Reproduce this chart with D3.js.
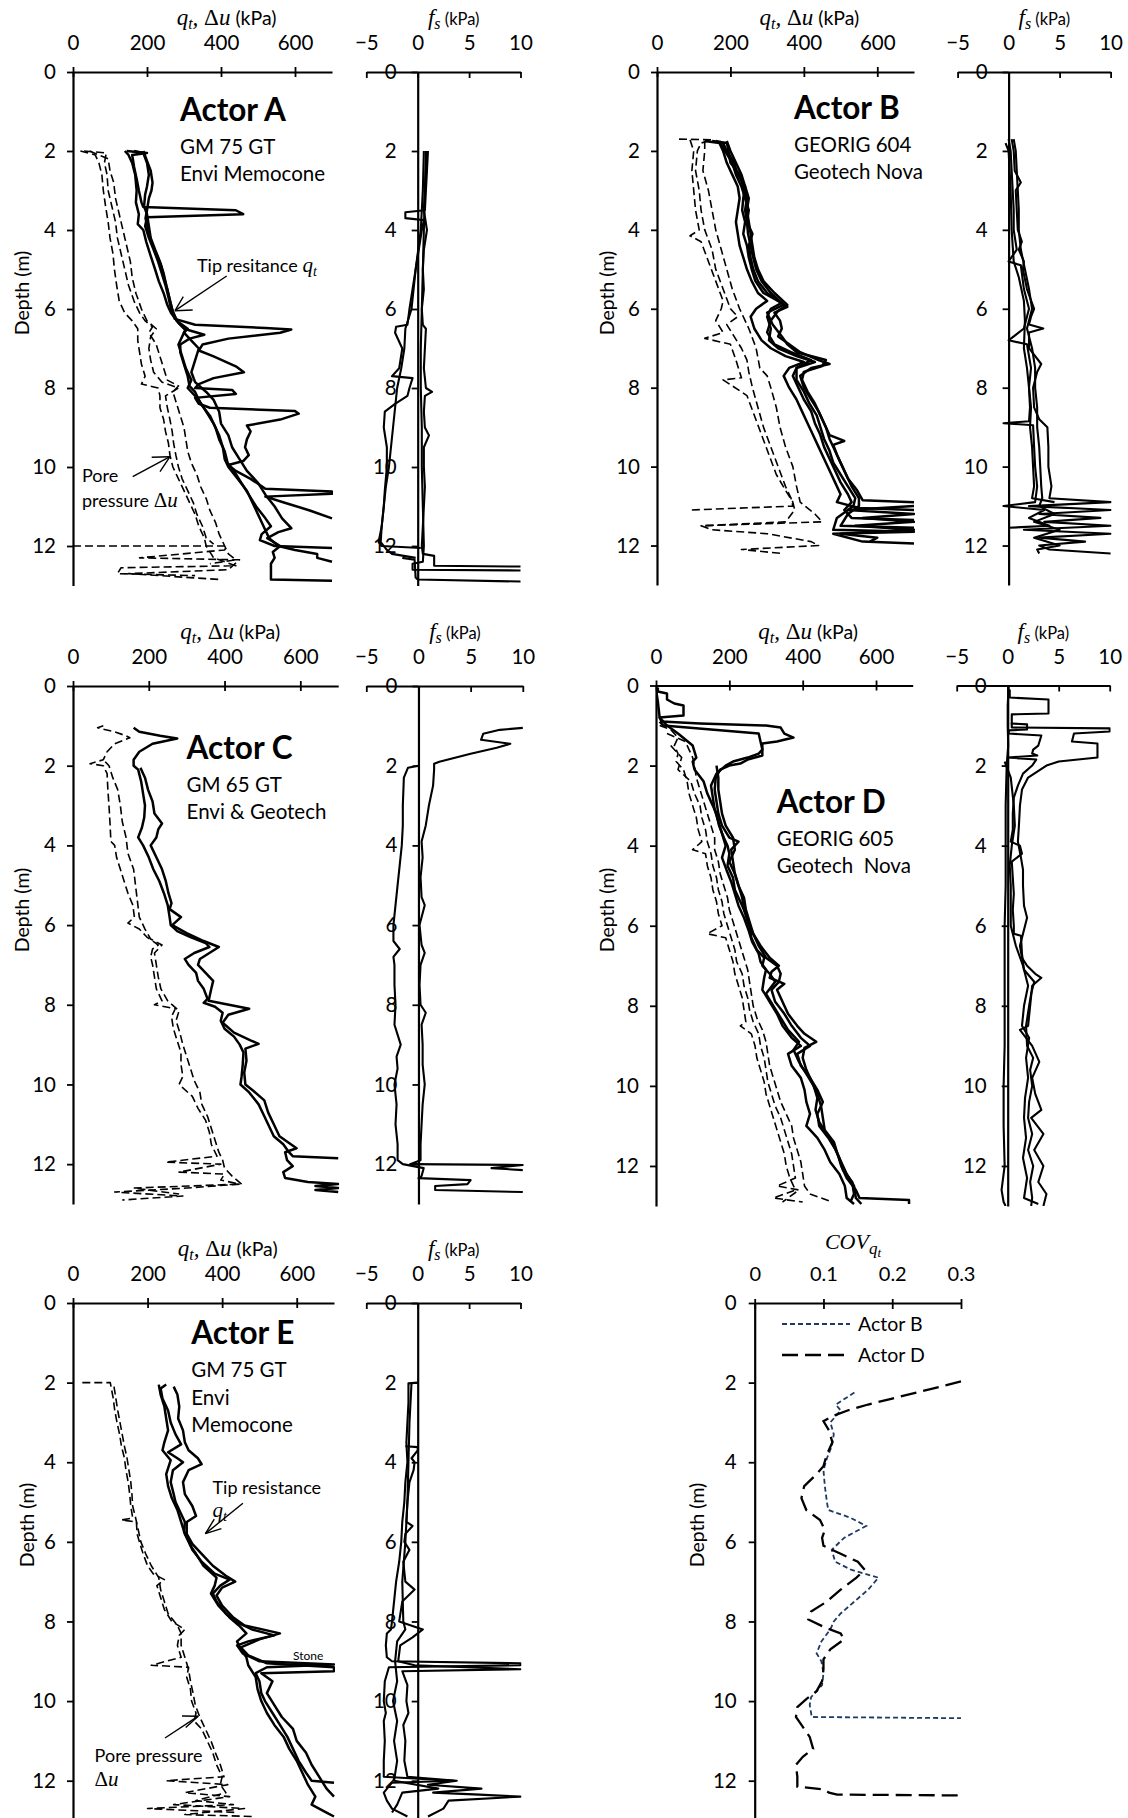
<!DOCTYPE html>
<html><head><meta charset="utf-8">
<script src="https://cdn.jsdelivr.net/npm/d3@7"></script>
<style>
body{margin:0;background:#fff}
svg{display:block}
text{font-family:Lato,'Open Sans',sans-serif;fill:#000}
.math{font-family:'Liberation Serif','DejaVu Serif',serif;font-style:italic}
</style></head><body>
<svg id="chart" width="1128" height="1818"></svg>
<script>
// ---------- tick labels ----------
const qtTicks = [0, 200, 400, 600];
const fsTicks = [-5, 0, 5, 10];
const depthTicks = [0, 2, 4, 6, 8, 10, 12];
const covTicks = [0, 0.1, 0.2, 0.3];

// ---------- Actor A : [depth (m), value] ----------
const qtA1 = [[2.0,145],[2.05,200],[2.1,160],[2.4,165],[2.7,172],[3.0,178],[3.3,185],[3.42,190],[3.5,440],[3.6,460],[3.68,200],[3.9,195],[4.2,205],[4.5,218],[4.8,230],[5.1,240],[5.4,250],[5.7,258],[6.0,265],[6.25,275],[6.4,330],[6.48,520],[6.52,590],[6.6,560],[6.75,420],[6.9,350],[7.05,340],[7.2,380],[7.45,440],[7.6,462],[7.75,380],[7.9,340],[8.0,330],[8.05,430],[8.15,440],[8.25,330],[8.4,340],[8.5,370],[8.58,600],[8.65,610],[8.8,560],[8.95,470],[9.1,480],[9.3,470],[9.5,465],[9.7,475],[9.85,460],[9.95,420],[10.1,440],[10.3,480],[10.55,520],[10.62,700],[10.68,700],[10.75,520],[10.9,570],[11.1,640],[11.3,700]];
const qtA2 = [[2.0,140],[2.1,150],[2.3,160],[2.6,168],[3.0,172],[3.3,170],[3.6,178],[3.85,175],[4.0,190],[4.3,198],[4.6,208],[5.0,222],[5.3,232],[5.6,245],[5.9,255],[6.1,265],[6.35,285],[6.5,300],[6.65,355],[6.75,315],[6.9,290],[7.1,290],[7.4,300],[7.7,310],[7.95,315],[8.1,330],[8.4,345],[8.7,370],[9.0,385],[9.3,395],[9.6,410],[9.9,418],[10.1,435],[10.4,455],[10.7,475],[11.0,495],[11.3,520],[11.5,535],[11.7,510],[11.85,505],[12.0,545],[12.05,700]];
const qtA3 = [[2.0,165],[2.05,190],[2.3,200],[2.6,205],[2.9,200],[3.1,195],[3.4,192],[3.6,200],[3.9,205],[4.2,210],[4.5,222],[4.8,235],[5.1,245],[5.4,252],[5.7,260],[6.0,268],[6.3,280],[6.5,310],[6.6,300],[6.8,320],[7.0,340],[7.3,330],[7.6,320],[7.85,330],[8.1,360],[8.3,380],[8.6,395],[8.9,400],[9.2,420],[9.5,430],[9.8,450],[10.1,470],[10.4,500],[10.7,520],[11.0,545],[11.3,565],[11.55,590],[11.65,555],[11.8,525],[12.0,560],[12.15,540],[12.3,545],[12.45,535],[12.85,535],[12.88,700]];
const qtA4 = [[2.0,190],[2.2,198],[2.5,210],[2.8,215],[3.0,212],[3.2,205],[3.5,200],[3.7,196],[4.0,203],[4.3,212],[4.6,225],[4.9,238],[5.2,246],[5.5,255],[5.8,262],[6.1,270],[6.35,285],[6.5,305],[6.7,295],[6.9,285],[7.2,295],[7.5,305],[7.8,320],[8.0,310],[8.3,340],[8.6,360],[8.9,380],[9.2,395],[9.5,405],[9.8,410],[10.0,420],[10.3,445],[10.6,470],[10.9,485],[11.2,500],[11.5,515],[11.8,530],[12.0,555],[12.1,600],[12.2,660],[12.3,660],[12.4,700]];
const uA1 = [[2.0,30],[2.05,90],[2.3,85],[2.6,92],[3.0,95],[3.4,105],[3.8,115],[4.2,120],[4.6,130],[5.0,140],[5.4,150],[5.8,165],[6.1,180],[6.3,195],[6.45,215],[6.6,205],[6.9,225],[7.2,235],[7.5,245],[7.8,255],[7.95,285],[8.1,270],[8.4,280],[8.7,290],[9.0,300],[9.3,305],[9.6,310],[9.9,320],[10.2,335],[10.5,345],[10.8,360],[11.1,370],[11.4,385],[11.7,395],[12.0,410],[12.2,420],[12.35,440],[12.45,370]];
const uA2 = [[2.0,20],[2.1,60],[2.3,70],[2.6,78],[3.0,82],[3.4,88],[3.8,95],[4.2,100],[4.6,108],[5.0,112],[5.4,118],[5.8,125],[6.1,140],[6.3,160],[6.5,175],[6.8,175],[7.1,180],[7.4,185],[7.7,195],[7.9,185],[8.0,230],[8.2,235],[8.5,235],[8.8,245],[9.1,250],[9.4,258],[9.7,262],[10.0,270],[10.3,285],[10.6,300],[10.9,315],[11.2,330],[11.5,340],[11.8,355],[12.0,360],[12.3,380],[12.5,440],[12.55,130],[12.7,120],[12.75,330]];
const uA3 = [[2.0,45],[2.2,95],[2.5,100],[2.8,110],[3.2,115],[3.6,125],[4.0,135],[4.4,145],[4.8,155],[5.2,160],[5.6,170],[6.0,185],[6.3,200],[6.5,225],[6.7,210],[7.0,205],[7.3,210],[7.6,218],[7.85,240],[8.0,285],[8.2,250],[8.5,255],[8.8,262],[9.1,268],[9.4,272],[9.7,278],[10.0,285],[10.3,295],[10.6,310],[10.9,325],[11.2,335],[11.5,350],[11.8,360],[11.95,380]];
const uA4 = [[12.0,0],[12.0,415],[12.1,410],[12.3,180],[12.35,450],[12.6,420],[12.7,150],[12.85,400]];
const fsA1 = [[2.0,1.0],[2.5,0.9],[3.0,0.8],[3.5,0.7],[3.55,-1.2],[3.7,-1.2],[3.75,0.6],[4.0,0.4],[4.5,0.1],[5.0,-0.2],[5.5,-0.5],[6.0,-0.8],[6.4,-1.0],[6.45,-2.1],[6.6,-2.2],[7.0,-1.5],[7.5,-1.8],[7.7,-2.5],[7.75,-0.5],[8.0,-0.8],[8.2,-1.0],[8.4,-2.2],[8.6,-3.2],[9.0,-3.3],[9.5,-3.0],[10.0,-3.0],[10.6,-3.2],[11.0,-3.3],[11.5,-3.5],[11.9,-3.8],[12.0,-3.5],[12.05,0.3]];
const fsA2 = [[2.0,0.6],[3.0,0.5],[4.0,0.3],[5.0,-0.2],[6.0,-0.6],[6.5,-1.2],[7.0,-1.3],[7.5,-1.6],[8.0,-2.0],[8.5,-2.2],[9.0,-2.4],[9.5,-2.6],[10.0,-2.8],[10.5,-3.1],[11.0,-3.3],[11.5,-3.5],[11.9,-3.6],[12.1,-3.0],[12.2,-2.5],[12.3,-0.2]];
const fsA3 = [[2.0,0.9],[2.5,0.8],[3.0,0.7],[3.5,0.6],[4.0,0.9],[4.5,0.6],[5.0,0.5],[5.5,0.6],[6.0,0.4],[6.4,0.5],[6.5,0.8],[7.0,0.7],[7.5,0.6],[8.0,0.8],[8.1,1.4],[8.2,0.7],[8.6,0.6],[9.0,0.7],[9.2,1.1],[9.5,0.6],[10.0,0.6],[10.5,0.7],[11.0,0.6],[11.5,0.5],[12.0,0.4],[12.2,0.5],[12.25,1.6],[12.5,1.6],[12.52,10]];
const fsA4 = [[2.0,0.8],[3.0,0.7],[4.0,0.6],[5.0,0.5],[6.0,0.4],[7.0,0.3],[8.0,0.3],[9.0,0.4],[10.0,0.4],[11.0,0.5],[12.0,0.6],[12.4,0.5],[12.45,-0.5],[12.6,-0.5],[12.62,10]];
const fsA5 = [[12.3,-1.5],[12.35,-0.3],[12.8,-0.2],[12.85,0.0],[12.9,10]];

// ---------- Actor B ----------
const qtB1 = [[1.75,150],[1.8,190],[2.0,195],[2.3,200],[2.6,225],[2.9,235],[3.2,245],[3.5,240],[3.8,245],[4.1,260],[4.4,250],[4.7,255],[5.0,262],[5.3,275],[5.6,300],[5.8,330],[5.95,355],[6.1,320],[6.3,335],[6.5,340],[6.7,330],[6.9,360],[7.1,390],[7.3,440],[7.4,470],[7.5,420],[7.7,390],[8.0,400],[8.3,420],[8.6,440],[8.9,455],[9.2,470],[9.35,510],[9.45,480],[9.7,490],[10.0,505],[10.3,520],[10.6,545],[10.85,560],[10.9,700]];
const qtB2 = [[1.75,130],[1.8,170],[2.0,180],[2.3,190],[2.6,205],[2.9,220],[3.2,225],[3.5,220],[3.8,215],[4.1,220],[4.4,225],[4.7,235],[5.0,245],[5.3,258],[5.6,275],[5.8,300],[6.0,270],[6.2,255],[6.5,265],[6.8,285],[7.0,310],[7.2,350],[7.35,400],[7.5,360],[7.7,345],[8.0,360],[8.3,380],[8.6,395],[8.9,410],[9.2,425],[9.5,440],[9.8,455],[10.1,470],[10.4,485],[10.7,500],[10.9,490],[11.05,550],[11.1,700]];
const qtB3 = [[1.75,160],[1.8,180],[2.0,190],[2.3,210],[2.6,220],[2.9,240],[3.2,235],[3.5,232],[3.8,240],[4.1,235],[4.4,245],[4.7,250],[5.0,258],[5.3,268],[5.6,290],[5.85,340],[6.0,310],[6.2,300],[6.5,310],[6.8,305],[7.0,330],[7.2,380],[7.35,430],[7.5,380],[7.7,370],[8.0,385],[8.3,400],[8.6,420],[8.9,430],[9.2,445],[9.5,455],[9.8,470],[10.1,485],[10.4,500],[10.7,520],[10.9,530],[11.1,510],[11.3,530],[11.35,700]];
const qtB4 = [[1.75,170],[2.0,185],[2.3,205],[2.6,215],[2.9,230],[3.2,240],[3.5,250],[3.8,245],[4.1,248],[4.4,255],[4.7,262],[5.0,270],[5.3,285],[5.6,310],[5.9,345],[6.1,300],[6.4,315],[6.7,340],[6.9,355],[7.1,380],[7.3,460],[7.45,450],[7.6,400],[7.8,395],[8.1,410],[8.4,430],[8.7,445],[9.0,460],[9.3,470],[9.6,485],[9.9,500],[10.2,515],[10.5,530],[10.8,550],[11.0,550],[11.2,520],[11.5,500],[11.55,700]];
const qtB5 = [[1.75,190],[2.0,200],[2.3,215],[2.6,230],[2.9,240],[3.2,250],[3.5,245],[3.8,250],[4.1,255],[4.4,260],[4.7,265],[5.0,275],[5.3,290],[5.6,320],[5.9,355],[6.05,330],[6.3,310],[6.6,300],[6.9,320],[7.1,365],[7.3,420],[7.5,380],[7.8,380],[8.1,400],[8.4,415],[8.7,435],[9.0,445],[9.3,455],[9.6,470],[9.9,480],[10.2,500],[10.5,520],[10.8,540],[11.0,535],[11.3,490],[11.6,480],[11.65,700],[11.7,480],[11.9,560],[11.95,700]];
const qtB6 = [[11.0,700],[11.1,520],[11.2,700],[11.3,560],[11.4,700],[11.5,540],[11.6,700],[11.7,500],[11.8,600],[11.9,580]];
const uB1 = [[1.7,60],[1.72,150],[1.8,120],[2.0,110],[2.5,105],[3.0,115],[3.5,120],[4.0,130],[4.5,150],[5.0,160],[5.5,180],[6.0,200],[6.2,220],[6.4,190],[6.7,210],[7.0,230],[7.3,245],[7.6,250],[8.0,260],[8.5,275],[9.0,290],[9.5,310],[10.0,330],[10.5,350],[10.8,365],[11.0,370],[11.1,90]];
const uB2 = [[1.72,90],[2.0,100],[2.5,95],[3.0,100],[3.5,105],[4.0,115],[4.15,90],[4.3,120],[4.8,140],[5.3,160],[5.8,180],[6.0,175],[6.3,160],[6.6,180],[6.75,130],[6.9,200],[7.3,215],[7.75,230],[7.8,180],[8.2,245],[8.7,265],[9.2,285],[9.7,305],[10.2,325],[10.6,350],[10.9,370],[11.1,375],[11.4,350],[11.5,120]];
const uB3 = [[1.75,130],[2.0,130],[2.5,125],[3.0,140],[3.5,150],[4.0,160],[4.5,175],[5.0,190],[5.5,205],[6.0,225],[6.5,250],[7.0,270],[7.5,280],[7.7,300],[8.0,310],[8.5,325],[9.0,335],[9.5,350],[10.0,370],[10.5,380],[10.9,390],[11.2,430],[11.4,450],[11.5,120],[11.6,150],[11.7,300],[11.9,420],[12.0,440],[12.1,230],[12.2,340]];
const fsB1 = [[1.7,0.3],[2.0,0.5],[2.5,0.6],[2.8,1.2],[3.0,0.7],[3.5,0.8],[4.0,0.9],[4.3,1.3],[4.5,1.0],[4.8,1.5],[5.0,1.4],[5.5,1.8],[6.0,2.5],[6.2,2.2],[6.4,2.0],[6.5,3.4],[6.6,2.0],[7.0,2.0],[7.4,3.2],[7.6,2.8],[8.0,2.4],[8.5,2.5],[8.8,3.0],[9.0,3.8],[9.5,3.9],[10.0,3.9],[10.5,4.2],[10.8,4.0],[10.9,10],[11.0,2.0],[11.1,10],[11.2,3.0],[11.3,9.0],[11.4,3.5],[11.5,10],[11.6,1.5],[11.7,10],[11.8,3.0],[11.9,7.5],[12.0,3.0],[12.1,4.0],[12.2,10]];
const fsB2 = [[1.7,0.0],[2.0,0.2],[2.5,0.3],[3.0,0.4],[3.5,0.5],[4.0,0.5],[4.5,0.8],[4.8,0.0],[4.9,1.2],[5.5,1.5],[6.0,2.0],[6.5,1.5],[6.8,0.0],[6.9,1.8],[7.5,2.2],[8.0,2.0],[8.5,2.1],[8.85,2.0],[8.9,-0.5],[8.95,2.4],[9.5,2.5],[10.0,2.6],[10.5,2.8],[10.9,2.6],[11.0,-0.5],[11.1,3.5],[11.3,2.0],[11.5,4.0],[11.55,0.0]];
const fsB3 = [[1.7,0.5],[2.0,0.7],[2.5,0.8],[3.0,0.9],[3.5,1.0],[4.0,1.0],[4.5,1.2],[5.0,1.6],[5.5,2.0],[6.0,2.3],[6.5,1.8],[7.0,2.3],[7.5,2.6],[8.0,2.6],[8.5,2.8],[9.0,2.8],[9.5,3.0],[10.0,3.1],[10.5,3.2],[10.8,3.3],[11.0,3.0],[11.2,4.5],[11.4,2.5],[11.6,5],[11.8,2.5],[12.0,5.0],[12.1,2.8],[12.2,3.0]];
const fsB4 = [[1.8,-0.3],[2.0,0],[3.0,0.2],[4.0,0.3],[4.8,0.5],[5.2,1.0],[5.8,1.5],[6.3,1.6],[7.0,1.5],[7.5,1.8],[8.0,2.0],[8.5,2.2],[9.0,2.1],[9.5,2.3],[10.0,2.4],[10.5,2.5],[10.8,2.3],[10.9,4.5]];

// ---------- Actor C ----------
const qtC1 = [[1.05,160],[1.15,175],[1.25,230],[1.32,275],[1.45,210],[1.65,175],[1.85,160],[2.0,160],[2.1,172],[2.4,180],[2.7,185],[3.0,190],[3.3,188],[3.55,182],[3.8,172],[4.0,185],[4.3,200],[4.6,212],[4.9,228],[5.2,240],[5.5,250],[5.8,255],[6.0,258],[6.15,275],[6.3,310],[6.45,350],[6.55,360],[6.7,320],[6.85,295],[7.0,305],[7.2,325],[7.4,330],[7.6,345],[7.85,355],[7.95,345],[8.05,375],[8.2,395],[8.4,390],[8.6,400],[8.8,425],[9.0,440],[9.2,450],[9.5,448],[9.8,445],[10.0,442],[10.2,465],[10.5,490],[10.8,505],[11.0,515],[11.3,530],[11.5,555],[11.7,570],[11.8,580],[11.85,700]];
const qtC2 = [[2.05,178],[2.3,190],[2.6,198],[2.9,210],[3.2,215],[3.45,235],[3.6,225],[3.8,220],[4.0,205],[4.3,220],[4.6,235],[4.9,245],[5.2,252],[5.45,260],[5.6,255],[5.8,285],[6.0,262],[6.2,300],[6.4,345],[6.55,385],[6.7,360],[6.85,335],[7.0,330],[7.2,350],[7.4,370],[7.6,365],[7.9,358],[8.1,465],[8.25,410],[8.45,395],[8.7,425],[8.9,470],[8.98,490],[9.1,455],[9.4,458],[9.7,452],[10.0,455],[10.15,475],[10.4,505],[10.7,515],[11.0,530],[11.3,545],[11.5,575],[11.6,590],[11.7,560],[11.9,565],[12.05,580],[12.2,555],[12.35,560],[12.45,620],[12.5,700],[12.55,640],[12.6,700],[12.65,640],[12.7,700]];
const uC1 = [[1.0,80],[1.05,65],[1.15,110],[1.25,140],[1.3,150],[1.45,110],[1.65,90],[1.85,80],[1.95,45],[2.0,80],[2.2,90],[2.6,92],[3.0,95],[3.5,98],[3.9,100],[4.0,110],[4.3,115],[4.6,125],[4.9,135],[5.2,145],[5.5,158],[5.8,162],[5.95,145],[6.1,175],[6.3,195],[6.5,225],[6.6,210],[6.8,205],[7.0,210],[7.3,215],[7.6,220],[7.9,235],[8.0,215],[8.1,270],[8.3,260],[8.6,265],[8.9,275],[9.2,285],[9.5,285],[9.8,290],[10.0,280],[10.3,315],[10.6,330],[10.9,350],[11.2,360],[11.5,365],[11.8,380],[11.95,245],[12.0,390],[12.2,280],[12.25,400],[12.4,390],[12.5,440],[12.6,300],[12.7,110],[12.8,290],[12.9,130]];
const uC2 = [[1.9,85],[2.0,95],[2.3,105],[2.6,118],[3.0,125],[3.4,130],[3.8,140],[4.2,145],[4.6,160],[5.0,165],[5.4,170],[5.8,175],[6.1,190],[6.35,205],[6.5,235],[6.7,215],[7.0,220],[7.3,225],[7.6,232],[7.9,250],[8.15,280],[8.4,272],[8.7,282],[9.0,290],[9.3,300],[9.6,310],[9.9,320],[10.2,335],[10.5,340],[10.8,355],[11.1,365],[11.4,375],[11.7,385],[11.9,395],[12.1,400],[12.3,420],[12.5,445],[12.6,160],[12.75,280]];
const fsC1 = [[1.05,10],[1.1,7.8],[1.2,6.2],[1.35,6.0],[1.45,8.8],[1.55,7.5],[1.7,5.0],[1.8,3.5],[1.9,2.0],[1.95,1.5],[2.1,1.5],[2.5,1.4],[3.0,1.0],[3.5,0.7],[3.9,0.3],[4.3,0.4],[4.8,0.2],[5.3,0.3],[5.5,0.6],[6.0,0.1],[6.5,0.3],[6.7,0.6],[7.0,0.2],[7.5,0.1],[8.0,0.2],[8.2,0.7],[8.5,0.3],[9.0,0.4],[9.5,0.4],[10.0,0.6],[10.5,0.4],[11.0,0.3],[11.5,0.2],[11.9,0.2],[12.0,-0.8],[12.02,10],[12.1,7.0],[12.15,10]];
const fsC2 = [[2.0,0],[2.05,-1.0],[2.3,-1.4],[3.0,-1.5],[3.5,-1.5],[4.0,-1.6],[4.5,-1.8],[5.0,-2.0],[5.5,-2.2],[6.0,-2.4],[6.4,-2.4],[6.6,-1.8],[6.8,-2.4],[7.0,-2.3],[7.5,-2.3],[8.0,-2.2],[8.5,-2.3],[9.0,-1.7],[9.3,-2.1],[9.6,-2.0],[10.0,-2.3],[10.5,-2.1],[11.0,-2.2],[11.5,-2.0],[11.9,-2.0],[12.0,-1.5],[12.1,0.5],[12.3,0.3],[12.35,0.0],[12.4,5.0],[12.5,4.7],[12.55,1.6],[12.65,1.6],[12.7,10]];

// ---------- Actor D ----------
const qtD1 = [[0.05,5],[0.15,5],[0.2,30],[0.35,30],[0.45,50],[0.5,75],[0.75,75],[0.8,10],[0.9,15],[0.95,120],[1.0,300],[1.05,340],[1.2,350],[1.3,375],[1.4,330],[1.45,290],[1.6,290],[1.75,290],[1.85,250],[1.95,230],[2.0,200],[2.1,175],[2.3,163],[2.6,160],[2.9,165],[3.2,170],[3.5,180],[3.8,200],[3.9,225],[4.1,205],[4.4,210],[4.7,215],[5.0,225],[5.3,235],[5.6,240],[5.9,250],[6.2,265],[6.5,285],[6.8,310],[7.0,335],[7.15,315],[7.3,310],[7.45,350],[7.6,330],[7.9,345],[8.2,360],[8.5,385],[8.7,405],[8.9,437],[9.05,405],[9.3,400],[9.6,410],[9.9,425],[10.2,440],[10.5,450],[10.8,455],[11.1,460],[11.4,485],[11.7,495],[12.0,505],[12.3,520],[12.6,545],[12.8,555],[12.85,690],[12.95,690]];
const qtD2 = [[0.9,10],[1.0,20],[1.1,150],[1.2,280],[1.4,285],[1.6,290],[1.7,280],[1.8,250],[1.9,210],[2.0,190],[2.2,165],[2.5,150],[2.8,155],[3.1,160],[3.4,170],[3.7,180],[4.0,190],[4.3,180],[4.6,192],[4.9,205],[5.2,215],[5.5,225],[5.8,240],[6.1,252],[6.4,262],[6.7,280],[6.9,285],[7.1,300],[7.3,295],[7.6,290],[7.9,310],[8.2,330],[8.5,345],[8.8,370],[9.0,395],[9.2,360],[9.5,370],[9.8,395],[10.1,405],[10.4,410],[10.7,420],[11.0,410],[11.3,440],[11.6,460],[11.9,475],[12.2,500],[12.5,515],[12.8,520],[12.95,540]];
const qtD3 = [[0.1,0],[0.4,5],[0.8,10],[1.0,30],[1.2,60],[1.5,100],[1.8,110],[1.9,100],[2.1,105],[2.4,130],[2.7,140],[2.9,150],[3.2,165],[3.5,172],[3.8,185],[4.0,195],[4.2,200],[4.5,195],[4.8,210],[5.1,215],[5.4,230],[5.7,245],[6.0,255],[6.3,260],[6.6,275],[6.8,295],[7.0,290],[7.2,310],[7.4,325],[7.7,300],[8.0,320],[8.3,340],[8.6,360],[8.9,390],[9.1,375],[9.4,390],[9.7,410],[10.0,430],[10.3,440],[10.6,435],[10.9,445],[11.2,465],[11.5,485],[11.8,500],[12.1,510],[12.4,535],[12.7,540],[12.9,530]];
const qtD4 = [[2.0,165],[2.3,170],[2.6,170],[2.9,175],[3.2,180],[3.5,190],[3.8,210],[4.1,215],[4.4,200],[4.7,215],[5.0,225],[5.3,240],[5.6,245],[5.9,255],[6.2,265],[6.5,280],[6.8,300],[7.0,330],[7.2,340],[7.4,335],[7.6,315],[7.9,325],[8.2,350],[8.5,370],[8.8,395],[9.0,420],[9.2,385],[9.5,395],[9.8,420],[10.1,440],[10.4,455],[10.7,440],[11.0,445],[11.3,470],[11.6,490],[11.9,505],[12.2,520],[12.5,540],[12.8,545],[12.95,560]];
const uD1 = [[1.0,10],[1.1,40],[1.3,60],[1.5,50],[1.7,60],[1.9,55],[2.1,75],[2.4,85],[2.7,90],[3.0,100],[3.3,110],[3.6,115],[3.9,125],[4.1,100],[4.2,135],[4.5,140],[4.8,150],[5.1,155],[5.4,165],[5.7,170],[6.0,180],[6.2,140],[6.3,190],[6.6,200],[6.9,210],[7.2,215],[7.5,225],[7.8,235],[8.1,240],[8.4,245],[8.5,230],[8.7,260],[9.0,270],[9.3,275],[9.6,285],[9.9,295],[10.2,300],[10.5,310],[10.8,320],[11.1,330],[11.4,340],[11.7,350],[12.0,355],[12.3,365],[12.6,380],[12.8,320],[12.9,400]];
const uD2 = [[1.2,30],[1.4,80],[1.6,90],[1.8,100],[2.0,105],[2.3,110],[2.6,120],[2.9,130],[3.2,140],[3.5,150],[3.8,160],[4.1,160],[4.4,170],[4.7,175],[5.0,185],[5.3,195],[5.6,200],[5.9,210],[6.2,220],[6.5,230],[6.8,240],[7.1,250],[7.4,255],[7.7,260],[8.0,265],[8.3,275],[8.6,290],[8.9,300],[9.2,305],[9.5,310],[9.8,320],[10.1,330],[10.4,340],[10.7,355],[11.0,370],[11.3,375],[11.6,385],[11.9,395],[12.2,400],[12.5,405],[12.7,420],[12.9,480]];
const uD3 = [[1.5,40],[1.8,70],[2.1,60],[2.4,95],[2.7,105],[3.0,120],[3.3,125],[3.6,135],[3.9,140],[4.2,150],[4.5,155],[4.8,165],[5.1,170],[5.4,180],[5.7,185],[6.0,195],[6.3,205],[6.6,215],[6.9,220],[7.2,235],[7.5,240],[7.8,250],[8.1,255],[8.4,265],[8.7,280],[9.0,285],[9.3,295],[9.6,300],[9.9,305],[10.2,315],[10.5,325],[10.8,340],[11.1,350],[11.4,360],[11.7,370],[12.0,375],[12.3,380],[12.5,330],[12.6,390],[12.9,345]];
const fsD1 = [[0.1,0.2],[0.3,0.2],[0.35,4.0],[0.7,4.0],[0.72,0.4],[1.05,0.4],[1.07,10],[1.15,10],[1.2,6.5],[1.4,6.3],[1.45,8.8],[1.8,8.8],[1.9,5.0],[2.0,3.8],[2.1,3.2],[2.3,2.0],[2.6,1.4],[3.0,1.2],[3.5,1.1],[3.9,1.0],[4.3,1.3],[4.6,1.5],[5.0,1.5],[5.5,1.6],[5.8,1.9],[6.2,1.5],[6.5,1.2],[6.8,1.4],[7.0,1.9],[7.2,2.7],[7.3,3.3],[7.5,2.4],[8.0,2.2],[8.5,2.0],[8.6,1.2],[9.0,2.4],[9.4,3.1],[9.8,2.4],[10.2,2.7],[10.6,3.3],[10.8,2.3],[11.2,3.5],[11.6,2.6],[12.0,3.5],[12.4,3.0],[12.7,3.8],[13.0,3.5]];
const fsD2 = [[0.95,0.3],[0.97,1.9],[1.1,1.9],[1.12,0.1],[1.2,0.1],[1.25,3.3],[1.5,3.0],[1.6,2.5],[1.7,2.4],[1.75,2.9],[1.8,0.0],[1.85,2.8],[2.0,2.4],[2.2,1.5],[2.5,1.0],[2.8,0.6],[3.2,0.5],[3.6,0.5],[3.9,0.3],[4.0,1.2],[4.2,1.4],[4.4,0.4],[4.8,0.5],[5.2,0.6],[5.6,0.5],[6.0,0.6],[6.2,0.6],[6.25,1.3],[6.7,1.4],[7.1,1.6],[7.4,2.6],[7.7,2.3],[8.0,2.1],[8.5,1.8],[9.0,1.9],[9.3,2.5],[9.6,2.2],[10.0,2.4],[10.4,2.1],[10.8,2.0],[11.2,2.4],[11.6,2.0],[12.0,2.5],[12.4,2.2],[12.8,2.4],[13.0,2.3]];
const fsD3 = [[0.0,0.1],[0.5,0.0],[1.0,0.0],[1.5,0.05],[2.0,-0.1],[3.0,-0.2],[4.0,-0.2],[5.0,-0.2],[6.0,-0.3],[7.0,-0.3],[8.0,-0.3],[9.0,-0.3],[10.0,-0.4],[11.0,-0.4],[12.0,-0.3],[12.6,-0.6],[12.9,-0.4],[13.0,-0.2]];
const fsD4 = [[1.9,-0.3],[2.3,0.3],[3.0,0.6],[3.5,0.7],[4.0,0.4],[4.5,0.2],[5.0,0.3],[6.0,0.3],[6.5,0.8],[7.0,1.5],[7.5,2.0],[8.0,1.6],[8.5,1.4],[8.8,2.1],[9.3,1.8],[9.8,2.0],[10.3,1.7],[10.8,1.6],[11.3,1.8],[11.8,1.5],[12.3,1.9],[12.8,1.6],[12.95,3.0]];

// ---------- Actor E ----------
const qtE1 = [[2.05,250],[2.15,235],[2.4,240],[2.7,255],[3.0,262],[3.3,275],[3.55,290],[3.75,255],[3.9,280],[4.0,295],[4.2,268],[4.5,262],[4.8,270],[5.0,275],[5.2,285],[5.5,300],[5.75,298],[6.0,312],[6.2,320],[6.5,345],[6.8,380],[6.95,420],[7.1,395],[7.3,375],[7.5,385],[7.8,410],[8.0,435],[8.2,480],[8.35,540],[8.5,470],[8.6,440],[8.8,455],[9.0,500],[9.08,700],[9.15,520],[9.3,490],[9.5,500],[9.8,505],[10.0,515],[10.3,535],[10.6,555],[10.9,575],[11.2,590],[11.5,605],[11.8,625],[12.0,640],[12.05,700]];
const qtE2 = [[2.1,270],[2.3,280],[2.6,285],[2.9,282],[3.2,295],[3.5,300],[3.7,310],[3.9,335],[4.05,345],[4.2,310],[4.5,295],[4.8,300],[5.1,320],[5.35,330],[5.5,305],[5.8,305],[6.05,320],[6.3,345],[6.6,375],[6.85,410],[7.0,435],[7.15,400],[7.35,385],[7.6,400],[7.9,430],[8.1,460],[8.3,555],[8.45,500],[8.65,450],[8.85,470],[9.05,520],[9.15,700],[9.25,700],[9.3,505],[9.5,535],[9.8,520],[10.1,540],[10.4,560],[10.7,590],[11.0,600],[11.3,625],[11.6,640],[11.9,660],[12.2,680],[12.4,700]];
const qtE3 = [[2.05,230],[2.3,235],[2.6,245],[2.9,250],[3.2,255],[3.5,245],[3.7,240],[3.95,262],[4.3,250],[4.6,255],[4.9,265],[5.2,280],[5.5,290],[5.8,300],[6.1,315],[6.3,330],[6.6,350],[6.9,385],[7.1,380],[7.3,370],[7.6,390],[7.9,420],[8.1,445],[8.3,465],[8.5,440],[8.7,450],[8.9,465],[9.1,470],[9.4,490],[9.7,495],[10.0,505],[10.3,520],[10.6,540],[10.9,565],[11.2,580],[11.5,600],[11.8,615],[12.1,630],[12.4,650],[12.6,640],[12.8,680],[12.9,700]];
const uE1 = [[2.0,25],[2.0,100],[2.1,102],[2.4,108],[2.7,112],[3.0,118],[3.3,125],[3.6,130],[3.9,138],[4.2,142],[4.5,148],[4.8,152],[5.1,155],[5.4,160],[5.45,130],[5.5,170],[5.8,172],[6.0,178],[6.3,188],[6.6,200],[6.8,215],[6.95,245],[7.1,225],[7.4,235],[7.7,245],[8.0,265],[8.2,300],[8.35,285],[8.6,280],[8.9,290],[9.1,210],[9.15,310],[9.4,305],[9.7,315],[10.0,318],[10.3,330],[10.5,325],[10.7,345],[11.0,360],[11.3,375],[11.6,385],[11.9,400],[12.1,395],[12.3,410],[12.5,330],[12.6,430],[12.7,200],[12.8,440]];
const uE2 = [[2.1,110],[2.4,115],[2.7,120],[3.0,126],[3.3,132],[3.6,138],[3.9,145],[4.2,150],[4.5,155],[4.8,158],[5.1,160],[5.4,168],[5.7,175],[6.0,182],[6.3,195],[6.6,210],[6.9,230],[7.2,235],[7.5,245],[7.8,255],[8.1,280],[8.3,290],[8.6,290],[8.9,300],[9.2,310],[9.5,315],[9.8,322],[10.1,328],[10.4,340],[10.7,355],[11.0,370],[11.3,382],[11.6,395],[11.9,405],[12.0,250],[12.1,415],[12.3,300],[12.4,420],[12.6,270],[12.7,460],[12.85,300],[12.9,480]];
const fsE1 = [[2.0,0],[2.02,-0.9],[2.5,-0.9],[3.0,-1.0],[3.5,-1.1],[4.0,-1.0],[4.5,-1.2],[5.0,-1.3],[5.5,-1.5],[6.0,-1.6],[6.5,-1.8],[7.0,-2.1],[7.5,-2.3],[8.0,-2.5],[8.2,-2.6],[8.3,-3.0],[8.6,-3.1],[8.9,-3.0],[9.0,-2.5],[9.05,10],[9.1,10],[9.15,-2.8],[9.5,-3.2],[10.0,-3.3],[10.3,-3.1],[10.5,-3.3],[11.0,-3.2],[11.5,-3.3],[11.9,-3.3],[12.0,3.5],[12.05,-2.5],[12.3,-3.3],[12.5,-3.0],[12.7,-2.5],[12.9,-1.0]];
const fsE2 = [[3.6,-1.2],[3.62,0],[3.7,0.0],[3.9,-0.6],[4.0,-0.3],[4.2,-0.4],[4.5,-0.8],[5.0,-1.0],[5.5,-1.1],[5.6,-0.5],[5.8,-1.2],[6.0,-1.3],[6.2,-0.8],[6.5,-1.4],[7.0,-1.2],[7.2,-0.3],[7.5,-1.5],[8.0,-1.8],[8.2,0.5],[8.4,-0.5],[8.6,-1.7],[9.0,-1.9],[9.1,-0.3],[9.2,10],[9.25,-1.5],[9.6,-1.0],[10.0,-1.1],[10.3,-0.9],[10.6,-1.4],[11.0,-1.2],[11.5,-1.3],[11.9,-1.0],[12.0,3.8],[12.1,1.0],[12.2,6.2],[12.3,1.5],[12.35,6.0],[12.4,10],[12.5,3.0],[12.7,2.5],[12.9,1.0]];
const fsE3 = [[2.0,-0.6],[3.0,-0.8],[4.0,-0.9],[5.0,-1.0],[6.0,-1.2],[7.0,-1.5],[8.0,-1.4],[8.2,-1.2],[8.5,-2.0],[9.0,-2.2],[9.5,-2.0],[10.0,-2.4],[10.5,-2.0],[11.0,-2.3],[11.5,-2.0],[12.0,-2.3],[12.2,2.0],[12.3,-1.5],[12.6,-2.0],[12.8,-2.5]];

// ---------- COV of qt : [depth, COV] ----------
const covB = [[2.25,0.145],[2.55,0.118],[2.7,0.125],[2.8,0.12],[3.0,0.11],[3.3,0.115],[3.6,0.112],[3.9,0.105],[4.2,0.1],[4.6,0.102],[5.0,0.105],[5.2,0.107],[5.4,0.14],[5.6,0.162],[5.9,0.13],[6.2,0.112],[6.5,0.117],[6.7,0.14],[6.9,0.18],[7.2,0.165],[7.5,0.145],[7.8,0.125],[8.0,0.115],[8.2,0.11],[8.5,0.097],[8.8,0.09],[9.0,0.097],[9.3,0.1],[9.6,0.098],[9.9,0.082],[10.1,0.08],[10.4,0.083],[10.43,0.3]];
const covD = [[1.97,0.3],[2.1,0.27],[2.25,0.235],[2.4,0.2],[2.55,0.165],[2.7,0.135],[2.85,0.112],[2.97,0.1],[3.2,0.108],[3.5,0.113],[3.8,0.105],[4.1,0.1],[4.3,0.09],[4.6,0.072],[4.9,0.068],[5.2,0.075],[5.45,0.095],[5.7,0.102],[5.9,0.098],[6.1,0.1],[6.3,0.125],[6.5,0.15],[6.7,0.16],[6.9,0.148],[7.2,0.125],[7.5,0.105],[7.75,0.082],[7.95,0.078],[8.15,0.102],[8.3,0.125],[8.45,0.13],[8.7,0.11],[8.95,0.1],[9.2,0.1],[9.5,0.098],[9.75,0.09],[9.95,0.075],[10.15,0.062],[10.4,0.06],[10.65,0.07],[10.9,0.08],[11.2,0.085],[11.4,0.07],[11.6,0.06],[11.9,0.062],[12.15,0.062],[12.22,0.1],[12.3,0.108],[12.35,0.12],[12.37,0.3]];

// ---------- drawing ----------
const FONT = "Lato, 'Open Sans', sans-serif";
const svg = d3.select('#chart');
svg.append('rect').attr('width',1128).attr('height',1818).attr('fill','#fff');
const defs = svg.append('defs');

function styleAxis(sel, size){
  sel.attr('font-family', null).attr('font-size', null);
  sel.selectAll('path.domain').attr('stroke','#000').attr('stroke-width',2.2);
  sel.selectAll('.tick line').attr('stroke','#000').attr('stroke-width',1.8);
  sel.selectAll('.tick text').attr('fill','#000').style('font-family',FONT).style('font-size',(size||20.5)+'px');
}

function depthLabel(x, y){
  svg.append('text').attr('transform',`translate(${x},${y}) rotate(-90)`)
    .attr('text-anchor','middle').attr('dominant-baseline','central')
    .style('font-size','19.5px').text('Depth (m)');
}

function qtTitle(x, y){
  const t = svg.append('text').attr('x',x).attr('y',y).attr('text-anchor','middle');
  t.append('tspan').attr('class','math').style('font-size','23px').text('q');
  t.append('tspan').attr('class','math').style('font-size','16px').attr('dy',4).text('t');
  t.append('tspan').attr('class','math').style('font-size','23px').attr('dy',-4).text(', ');
  t.append('tspan').style('font-family',"'Liberation Serif',serif").style('font-size','23px').text('Δ');
  t.append('tspan').attr('class','math').style('font-size','23px').text('u');
  t.append('tspan').style('font-size','19.5px').text(' (kPa)');
}
function fsTitle(x, y){
  const t = svg.append('text').attr('x',x).attr('y',y).attr('text-anchor','middle');
  t.append('tspan').attr('class','math').style('font-size','23px').text('f');
  t.append('tspan').attr('class','math').style('font-size','16px').attr('dy',4).text('s');
  t.append('tspan').style('font-size','16.5px').attr('dy',-4).text(' (kPa)');
}
function actorText(x, y, name, lines, lh){
  svg.append('text').attr('x',x).attr('y',y).style('font-size','31.5px').style('font-weight','bold').text(name);
  lines.forEach((l,i)=> svg.append('text').attr('x',x).attr('y',y + 33 + i*(lh||26.5))
    .style('font-size','20.5px').style('white-space','pre').attr('xml:space','preserve').text(l));
}
function arrow(x1,y1,x2,y2,h1,h2){
  const g = svg.append('g').attr('stroke','#000').attr('stroke-width',1.4).attr('fill','none');
  g.append('line').attr('x1',x1).attr('y1',y1).attr('x2',x2).attr('y2',y2);
  g.append('line').attr('x1',x2).attr('y1',y2).attr('x2',h1[0]).attr('y2',h1[1]);
  g.append('line').attr('x1',x2).attr('y1',y2).attr('x2',h2[0]).attr('y2',h2[1]);
}

function drawPanel(c){
  const y = d3.scaleLinear().domain([0,13]).range([c.y0, c.y13]);
  const xq = d3.scaleLinear().domain([0,700]).range(c.qx);
  const xf = d3.scaleLinear().domain([-5,10]).range(c.fx);
  defs.append('clipPath').attr('id','cq'+c.key).append('rect')
    .attr('x',xq(0)).attr('y',y(0)).attr('width',xq(700)-xq(0)+1).attr('height',y(13)-y(0));
  defs.append('clipPath').attr('id','cf'+c.key).append('rect')
    .attr('x',xf(-5)).attr('y',y(0)).attr('width',xf(10)-xf(-5)+1).attr('height',y(13)-y(0));

  const a1 = svg.append('g').attr('transform',`translate(0,${y(0)})`)
    .call(d3.axisTop(xq).tickValues(qtTicks).tickSize(5).tickSizeOuter(0).tickPadding(17));
  a1.selectAll('.tick line').attr('y1',5).attr('y2',-5);
  styleAxis(a1);
  const a2 = svg.append('g').attr('transform',`translate(${xq(0)},0)`)
    .call(d3.axisLeft(y).tickValues(depthTicks).tickSize(6).tickSizeOuter(0).tickPadding(11));
  styleAxis(a2);
  const a3 = svg.append('g').attr('transform',`translate(0,${y(0)})`)
    .call(d3.axisTop(xf).tickValues(fsTicks).tickSizeInner(-6).tickSizeOuter(0).tickPadding(22));
  styleAxis(a3);
  const a4 = svg.append('g').attr('transform',`translate(${xf(0)},0)`)
    .call(d3.axisLeft(y).tickValues(depthTicks).tickSize(6).tickSizeOuter(0).tickPadding(15));
  styleAxis(a4);

  const lq = d3.line().x(d=>xq(d[1])).y(d=>y(d[0]));
  const lf = d3.line().x(d=>xf(d[1])).y(d=>y(d[0]));
  const gq = svg.append('g').attr('clip-path',`url(#cq${c.key})`).attr('fill','none').attr('stroke','#000');
  c.u.forEach(s=> gq.append('path').attr('d',lq(s)).attr('stroke-width',1.6).attr('stroke-dasharray','8,4').attr('stroke-linejoin','round'));
  c.qt.forEach(s=> gq.append('path').attr('d',lq(s)).attr('stroke-width',2.5).attr('stroke-linejoin','round'));
  const gf = svg.append('g').attr('clip-path',`url(#cf${c.key})`).attr('fill','none').attr('stroke','#000');
  c.fs.forEach(s=> gf.append('path').attr('d',lf(s)).attr('stroke-width',2.1).attr('stroke-linejoin','round'));

  qtTitle(xq(415), y(0)-47);
  fsTitle(xf(3.5), y(0)-47);
  depthLabel(c.depthX, c.depthY);
}

drawPanel({key:'A', y0:72, y13:585.5, qx:[73,332], fx:[366.3,520.5],
  qt:[qtA1,qtA2,qtA3,qtA4], u:[uA1,uA2,uA3,uA4], fs:[fsA1,fsA2,fsA3,fsA4,fsA5],
  depthX:21, depthY:293});
drawPanel({key:'B', y0:72, y13:585, qx:[657,914], fx:[957.6,1110.6],
  qt:[qtB1,qtB2,qtB3,qtB4,qtB5,qtB6], u:[uB1,uB2,uB3], fs:[fsB1,fsB2,fsB3,fsB4],
  depthX:606, depthY:293});
drawPanel({key:'C', y0:686, y13:1204, qx:[73,338.2], fx:[366.3,522.8],
  qt:[qtC1,qtC2], u:[uC1,uC2], fs:[fsC1,fsC2],
  depthX:21, depthY:910});
drawPanel({key:'D', y0:685.5, y13:1206, qx:[656,912.7], fx:[956.7,1109.7],
  qt:[qtD1,qtD2,qtD3,qtD4], u:[uD1,uD2,uD3], fs:[fsD1,fsD2,fsD3,fsD4],
  depthX:606, depthY:910});
drawPanel({key:'E', y0:1303, y13:1820.5, qx:[73,334], fx:[366.3,520.5],
  qt:[qtE1,qtE2,qtE3], u:[uE1,uE2], fs:[fsE1,fsE2,fsE3],
  depthX:26, depthY:1525});

// ---------- COV panel ----------
(function(){
  const y = d3.scaleLinear().domain([0,13]).range([1303,1820.5]);
  const x = d3.scaleLinear().domain([0,0.3]).range([754.7,961]);
  const a1 = svg.append('g').attr('transform',`translate(0,${y(0)})`)
    .call(d3.axisTop(x).tickValues(covTicks).tickFormat(d=> d===0 ? '0' : d3.format('.1f')(d)).tickSize(5).tickSizeOuter(0).tickPadding(17));
  a1.selectAll('.tick line').attr('y1',6).attr('y2',-4);
  styleAxis(a1, 20);
  const a2 = svg.append('g').attr('transform',`translate(${x(0)},0)`)
    .call(d3.axisLeft(y).tickValues(depthTicks).tickSize(6).tickSizeOuter(0).tickPadding(12));
  styleAxis(a2);
  const line = d3.line().x(d=>x(d[1])).y(d=>y(d[0]));
  svg.append('path').attr('d',line(covB)).attr('fill','none').attr('stroke','#1f3864').attr('stroke-width',1.8).attr('stroke-dasharray','5,3');
  svg.append('path').attr('d',line(covD)).attr('fill','none').attr('stroke','#000').attr('stroke-width',2.3).attr('stroke-dasharray','16,7');
  // legend
  svg.append('line').attr('x1',782).attr('x2',850).attr('y1',1324).attr('y2',1324).attr('stroke','#1f3864').attr('stroke-width',1.8).attr('stroke-dasharray','5,3');
  svg.append('text').attr('x',858).attr('y',1331).style('font-size','19.5px').text('Actor B');
  svg.append('line').attr('x1',782).attr('x2',850).attr('y1',1355).attr('y2',1355).attr('stroke','#000').attr('stroke-width',2.3).attr('stroke-dasharray','16,7');
  svg.append('text').attr('x',858).attr('y',1362).style('font-size','19.5px').text('Actor D');
  // title
  const t = svg.append('text').attr('x',853).attr('y',1249).attr('text-anchor','middle');
  t.append('tspan').attr('class','math').style('font-size','22px').text('COV');
  t.append('tspan').attr('class','math').style('font-size','17px').attr('dy',5).text('q');
  t.append('tspan').attr('class','math').style('font-size','13px').attr('dy',3).text('t');
  depthLabel(696, 1525);
})();

// ---------- panel texts ----------
actorText(180, 121, 'Actor A', ['GM 75 GT','Envi Memocone']);
actorText(794, 119, 'Actor B', ['GEORIG 604','Geotech Nova']);
actorText(186.6, 759, 'Actor C', ['GM 65 GT','Envi & Geotech']);
actorText(776.7, 813, 'Actor D', ['GEORIG 605','Geotech  Nova']);
actorText(191.3, 1344, 'Actor E', ['GM 75 GT','Envi','Memocone'], 27.5);

// annotations A
(function(){
  const t = svg.append('text').attr('x',197).attr('y',272).style('font-size','18px');
  t.append('tspan').text('Tip resitance ');
  t.append('tspan').attr('class','math').style('font-size','21px').text('q');
  t.append('tspan').attr('class','math').style('font-size','14px').attr('dy',4).text('t');
  arrow(226.7,276,175,310.7,[192.7,310],[183.3,296.7]);
  svg.append('text').attr('x',82).attr('y',482).style('font-size','18px').text('Pore');
  const t2 = svg.append('text').attr('x',82).attr('y',507).style('font-size','18px');
  t2.append('tspan').text('pressure ');
  t2.append('tspan').style('font-family',"'Liberation Serif',serif").style('font-size','21px').text('Δ');
  t2.append('tspan').attr('class','math').style('font-size','21px').text('u');
  arrow(132.7,476.7,170,456.7,[151.7,457.3],[160,471.7]);
})();
// annotations E
(function(){
  svg.append('text').attr('x',212.5).attr('y',1494).style('font-size','18px').text('Tip resistance');
  const q = svg.append('text').attr('x',212.5).attr('y',1517);
  q.append('tspan').attr('class','math').style('font-size','21px').text('q');
  q.append('tspan').attr('class','math').style('font-size','14px').attr('dy',4).text('t');
  arrow(242.9,1503.3,205.4,1533.6,[221.4,1528.7],[214.3,1519.2]);
  svg.append('text').attr('x',293).attr('y',1660).style('font-size','12px').text('Stone');
  svg.append('text').attr('x',94.6).attr('y',1762).style('font-size','18px').text('Pore pressure');
  const t2 = svg.append('text').attr('x',94.6).attr('y',1786);
  t2.append('tspan').style('font-family',"'Liberation Serif',serif").style('font-size','21px').text('Δ');
  t2.append('tspan').attr('class','math').style('font-size','21px').text('u');
  arrow(165,1738,198.2,1716.2,[182,1716],[185.7,1727.6]);
})();
</script>
</body></html>
